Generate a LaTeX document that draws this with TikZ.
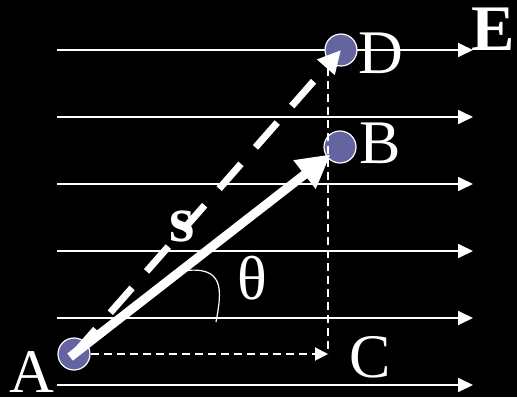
\documentclass[tikz,border=0pt]{standalone}
\usepackage{fontspec}
\setmainfont{Liberation Serif}
\usetikzlibrary{arrows.meta,calc}
\definecolor{ptfill}{RGB}{100,100,160}
\begin{document}
\begin{tikzpicture}[x=1pt,y=-1pt,
  field/.style={white,line width=1.8pt,-{Triangle[length=15pt,width=14pt]}},
  pt/.style={circle,draw=white,line width=1.2pt,fill=ptfill,minimum size=32pt,inner sep=0pt},
  vec/.style={white,line width=9pt,-{Triangle[length=33pt,width=34pt]}},
  dvec/.style={white,line width=7pt,dash pattern=on 33pt off 22pt,-{Triangle[length=23pt,width=22pt]}},
  guide/.style={white,line width=2pt,dash pattern=on 8pt off 5pt},
  lbl/.style={white,inner sep=0pt,anchor=base,font=\fontsize{62}{62}\selectfont},
  blbl/.style={lbl,font=\fontsize{65}{65}\selectfont\bfseries},
]
\fill[black] (0,0) rectangle (517,397);
\useasboundingbox (0,0) rectangle (517,397);
% field lines
\foreach \yy in {50,117,184,251,318,385}
  \draw[field] (57,\yy) -- (473,\yy);
% points
\node[pt] (A) at (74,354) {};
\node[pt] (B) at (340,147) {};
\node[pt] (D) at (341,50) {};
\coordinate (Cc) at (328,354);
\coordinate (Dv) at (328,68);
% guides
\draw[guide] (Dv) -- (Cc);
\draw[guide,-{Triangle[length=13pt,width=13pt]}] (A.east) -- (Cc);
% vectors
\draw[dvec] (A.center) -- (D.center);
\draw[vec] ($(A.center)!-5pt!(B.center)$) -- ($(B.center)!12pt!(A.center)$);
% angle
\draw[white,line width=1.2pt] (182,271) .. controls (225,265) and (222,290) .. (216,322);
% labels
\node[lbl] (lD) at (381,73) {D};
\node[lbl] (lB) at (380,163) {B};
\node[lbl] (lC) at (370,377) {C};
\node[lbl] (lA) at (32,392) {A};
\node[blbl] (lE) at (493,50) {E};
\node[blbl] (ls) at (182,241) {s};
\node[lbl] (lth) at (252,299) {θ};
\end{tikzpicture}
\end{document}
